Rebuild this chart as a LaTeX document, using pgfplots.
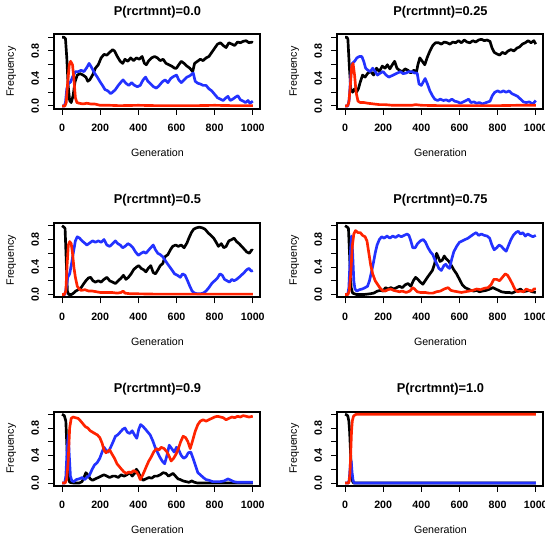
\documentclass[border=0pt]{standalone}
\usepackage{fontspec}
\setmainfont{Liberation Sans}
\usepackage{pgfplots}
\pgfplotsset{compat=1.18}
\definecolor{rred}{RGB}{255,35,0}
\definecolor{rblue}{RGB}{35,50,255}

% one R-style panel: 4% padding on both axes, thick box, outward ticks
\pgfplotsset{
  rpanel/.style={
    width=154.5pt, height=55.69pt, scale only axis, anchor=south west,
    xmin=-40, xmax=1040, ymin=-0.04, ymax=1.04,
    axis line style={line width=1.5pt},
    xtick={0,200,400,600,800,1000}, xticklabels={0,200,400,600,800,1000},
    ytick={0,0.2,0.4,0.6,0.8,1}, yticklabels={0.0,,0.4,,0.8,},
    tick pos=left, tick align=outside,
    major tick length=4.5pt,
    every tick/.style={black, line width=0.75pt},
    ticklabel style={font=\bfseries\fontsize{8}{9.6}\selectfont},
    yticklabel style={rotate=90, anchor=south},
    xticklabel shift=3.5pt, yticklabel shift=3.5pt,
    title style={at={(axis description cs:0.5,1.195)}, anchor=center, yshift=0pt,
      font=\bfseries\fontsize{9.6}{11.5}\selectfont},
    xlabel style={at={(axis description cs:0.5,-0.593)}, anchor=center,
      font=\fontsize{8}{9.6}\selectfont},
    ylabel style={at={(axis description cs:-0.209,0.5)}, anchor=center,
      font=\fontsize{8}{9.6}\selectfont},
    xlabel=Generation, ylabel=Frequency,
    every axis plot/.append style={line width=2pt, line join=round, no markers},
  }
}

\begin{document}
\begin{tikzpicture}
\useasboundingbox (0,0) rectangle (408.75pt,402.75pt);
\clip (0,0) rectangle (408.75pt,402.75pt);

% ---- P = 0.0
\begin{axis}[rpanel, at={(40.8pt,321.19pt)}, title={P(rcrtmnt)=0.0}]
\addplot[black] coordinates {(0,1.0)(10,1.0)(18,0.98)(25,0.7)(32,0.3)(40,0.08)(48,0.05)(58,0.15)(68,0.35)(80,0.45)(95,0.47)(110,0.45)(125,0.42)(135,0.36)(145,0.38)(160,0.45)(175,0.55)(190,0.6)(205,0.7)(220,0.75)(235,0.74)(250,0.78)(265,0.82)(275,0.8)(290,0.72)(305,0.65)(318,0.62)(330,0.68)(345,0.65)(360,0.7)(375,0.66)(390,0.7)(405,0.68)(420,0.72)(432,0.62)(442,0.6)(455,0.66)(470,0.7)(485,0.72)(500,0.7)(515,0.66)(530,0.68)(545,0.62)(560,0.6)(575,0.58)(590,0.55)(600,0.55)(612,0.6)(625,0.65)(640,0.62)(655,0.58)(670,0.55)(685,0.5)(695,0.62)(710,0.65)(725,0.68)(740,0.66)(755,0.7)(770,0.72)(785,0.78)(800,0.84)(815,0.9)(830,0.92)(845,0.88)(860,0.85)(875,0.92)(890,0.9)(905,0.88)(920,0.93)(935,0.92)(950,0.94)(965,0.95)(980,0.92)(995,0.93)(1000,0.92)};
\addplot[rblue] coordinates {(0,0)(12,0)(18,0.05)(25,0.25)(32,0.32)(45,0.35)(55,0.42)(70,0.5)(85,0.5)(100,0.52)(115,0.5)(130,0.56)(142,0.62)(155,0.56)(170,0.48)(185,0.42)(200,0.35)(212,0.3)(225,0.24)(240,0.22)(255,0.18)(265,0.2)(280,0.24)(295,0.3)(310,0.35)(320,0.38)(335,0.33)(350,0.3)(365,0.34)(380,0.3)(395,0.28)(410,0.3)(425,0.38)(438,0.42)(450,0.36)(465,0.32)(480,0.28)(495,0.26)(510,0.3)(525,0.35)(540,0.38)(555,0.34)(570,0.4)(585,0.43)(600,0.45)(612,0.38)(625,0.34)(640,0.38)(655,0.42)(670,0.44)(688,0.48)(698,0.36)(712,0.33)(725,0.32)(740,0.3)(755,0.3)(770,0.25)(785,0.22)(800,0.17)(815,0.12)(830,0.1)(845,0.08)(860,0.12)(870,0.14)(882,0.08)(895,0.1)(910,0.13)(922,0.15)(935,0.09)(950,0.07)(962,0.05)(975,0.08)(985,0.04)(1000,0.07)};
\addplot[rred] coordinates {(0,0)(15,0)(22,0.05)(30,0.35)(38,0.6)(45,0.65)(55,0.6)(62,0.4)(70,0.12)(78,0.05)(90,0.04)(110,0.03)(130,0.04)(150,0.03)(170,0.03)(185,0.02)(200,0.01)(250,0.01)(300,0.005)(400,0.01)(500,0.005)(600,0.005)(700,0.005)(800,0.01)(900,0.005)(1000,0.005)};
\end{axis}

% ---- P = 0.25
\begin{axis}[rpanel, at={(253.05pt,321.19pt)}, title={P(rcrtmnt)=0.25}]
\addplot[black] coordinates {(0,1.0)(10,1.0)(15,0.97)(22,0.6)(30,0.25)(40,0.2)(50,0.25)(60,0.2)(70,0.25)(80,0.35)(92,0.45)(105,0.42)(120,0.48)(135,0.5)(150,0.45)(165,0.55)(180,0.5)(195,0.58)(210,0.55)(222,0.6)(235,0.54)(248,0.6)(260,0.65)(272,0.55)(285,0.52)(300,0.5)(315,0.54)(330,0.52)(345,0.48)(360,0.52)(375,0.5)(382,0.6)(392,0.7)(405,0.65)(418,0.6)(430,0.7)(445,0.8)(460,0.88)(475,0.92)(490,0.92)(505,0.9)(520,0.93)(535,0.92)(550,0.9)(565,0.93)(580,0.92)(595,0.95)(610,0.92)(625,0.96)(640,0.93)(655,0.92)(670,0.95)(685,0.93)(700,0.96)(715,0.97)(730,0.95)(745,0.96)(760,0.94)(770,0.85)(782,0.78)(795,0.76)(810,0.74)(825,0.78)(840,0.76)(855,0.8)(870,0.82)(885,0.8)(900,0.84)(915,0.86)(930,0.9)(945,0.92)(960,0.95)(975,0.92)(990,0.95)(1000,0.9)};
\addplot[rblue] coordinates {(0,0)(15,0)(22,0.1)(30,0.45)(38,0.62)(50,0.65)(62,0.7)(75,0.72)(88,0.72)(98,0.65)(108,0.55)(120,0.52)(132,0.5)(145,0.55)(158,0.5)(170,0.45)(185,0.48)(200,0.5)(215,0.45)(230,0.42)(245,0.44)(260,0.46)(275,0.48)(290,0.5)(305,0.47)(320,0.48)(335,0.5)(350,0.5)(365,0.48)(378,0.48)(388,0.32)(400,0.3)(412,0.36)(420,0.4)(432,0.32)(445,0.22)(458,0.15)(470,0.1)(485,0.08)(500,0.1)(515,0.08)(530,0.09)(545,0.07)(560,0.1)(575,0.07)(590,0.06)(605,0.04)(620,0.06)(635,0.08)(648,0.1)(660,0.05)(675,0.06)(690,0.04)(705,0.05)(720,0.03)(740,0.05)(760,0.07)(772,0.15)(785,0.2)(800,0.22)(815,0.2)(830,0.22)(845,0.2)(860,0.22)(875,0.18)(890,0.16)(905,0.14)(920,0.1)(935,0.06)(950,0.05)(965,0.06)(985,0.03)(1000,0.08)};
\addplot[rred] coordinates {(0,0)(12,0)(20,0.05)(28,0.3)(35,0.58)(42,0.62)(50,0.45)(58,0.2)(68,0.07)(80,0.05)(100,0.05)(120,0.04)(150,0.03)(180,0.02)(210,0.02)(250,0.01)(300,0.01)(350,0.01)(370,0.02)(400,0.01)(500,0.005)(600,0.005)(700,0.005)(800,0.005)(900,0.01)(1000,0.01)};
\end{axis}

% ---- P = 0.5
\begin{axis}[rpanel, at={(40.8pt,179.81pt)}, title={P(rcrtmnt)=0.5}]
\addplot[black] coordinates {(0,1.0)(10,0.98)(16,0.96)(22,0.5)(28,0.05)(35,0.0)(50,0.0)(60,0.02)(72,0.05)(85,0.07)(100,0.1)(112,0.15)(125,0.2)(138,0.24)(150,0.25)(162,0.2)(175,0.18)(190,0.2)(205,0.18)(220,0.22)(235,0.25)(250,0.2)(265,0.18)(280,0.16)(295,0.2)(310,0.24)(322,0.28)(335,0.22)(348,0.25)(362,0.3)(375,0.36)(390,0.4)(402,0.42)(415,0.38)(428,0.36)(440,0.33)(452,0.38)(465,0.42)(478,0.32)(490,0.3)(503,0.36)(515,0.42)(528,0.45)(540,0.55)(555,0.58)(568,0.65)(580,0.7)(595,0.72)(610,0.7)(625,0.72)(640,0.68)(655,0.75)(665,0.82)(678,0.9)(690,0.95)(705,0.97)(720,0.98)(735,0.97)(750,0.95)(765,0.9)(780,0.86)(795,0.82)(808,0.76)(820,0.7)(835,0.74)(848,0.68)(860,0.7)(875,0.78)(890,0.8)(902,0.82)(915,0.77)(928,0.74)(942,0.7)(955,0.66)(968,0.62)(982,0.6)(995,0.65)(1000,0.64)};
\addplot[rblue] coordinates {(0,0)(15,0)(22,0.1)(30,0.25)(40,0.3)(50,0.45)(60,0.62)(70,0.78)(80,0.84)(92,0.82)(105,0.78)(118,0.75)(130,0.72)(145,0.75)(160,0.78)(175,0.76)(190,0.78)(205,0.76)(220,0.8)(235,0.72)(250,0.7)(265,0.74)(280,0.78)(292,0.74)(305,0.72)(318,0.68)(330,0.7)(345,0.74)(358,0.72)(372,0.68)(385,0.62)(400,0.57)(415,0.6)(428,0.62)(440,0.6)(452,0.64)(465,0.68)(478,0.72)(490,0.65)(502,0.6)(515,0.58)(528,0.55)(540,0.5)(552,0.45)(565,0.4)(578,0.35)(590,0.3)(605,0.28)(620,0.25)(632,0.3)(645,0.28)(658,0.2)(670,0.12)(682,0.05)(695,0.02)(710,0.01)(725,0.01)(740,0.02)(755,0.05)(770,0.1)(785,0.16)(800,0.2)(815,0.24)(828,0.3)(840,0.28)(852,0.22)(865,0.2)(878,0.18)(890,0.22)(902,0.2)(915,0.22)(928,0.25)(940,0.28)(955,0.32)(968,0.36)(980,0.38)(992,0.34)(1000,0.35)};
\addplot[rred] coordinates {(0,0)(12,0)(20,0.05)(27,0.45)(33,0.72)(40,0.77)(48,0.74)(55,0.6)(62,0.4)(70,0.25)(80,0.12)(90,0.08)(100,0.06)(120,0.07)(140,0.05)(160,0.05)(180,0.04)(200,0.03)(230,0.03)(260,0.03)(290,0.02)(310,0.03)(320,0.05)(330,0.02)(360,0.01)(400,0.01)(500,0.005)(600,0.005)(700,0.005)(800,0.005)(900,0.005)(1000,0.005)};
\end{axis}

% ---- P = 0.75
\begin{axis}[rpanel, at={(253.05pt,179.81pt)}, title={P(rcrtmnt)=0.75}]
\addplot[black] coordinates {(0,1.0)(12,0.98)(18,0.96)(25,0.5)(32,0.1)(40,0.02)(60,0.0)(100,0.0)(130,0.01)(150,0.02)(170,0.05)(185,0.06)(200,0.05)(212,0.1)(225,0.08)(240,0.1)(255,0.08)(270,0.1)(285,0.12)(300,0.1)(315,0.14)(330,0.16)(345,0.12)(358,0.2)(370,0.25)(382,0.22)(395,0.18)(408,0.15)(420,0.2)(432,0.25)(445,0.3)(458,0.35)(470,0.45)(480,0.6)(488,0.55)(498,0.48)(510,0.5)(520,0.56)(530,0.52)(545,0.48)(558,0.42)(570,0.36)(585,0.3)(600,0.22)(615,0.14)(630,0.1)(645,0.08)(660,0.06)(675,0.05)(690,0.06)(705,0.04)(720,0.05)(740,0.06)(760,0.08)(775,0.1)(790,0.08)(805,0.06)(820,0.04)(840,0.03)(860,0.03)(875,0.02)(890,0.04)(905,0.06)(920,0.08)(935,0.04)(950,0.05)(965,0.06)(980,0.04)(1000,0.03)};
\addplot[rblue] coordinates {(0,0)(14,0)(20,0.1)(28,0.6)(34,0.85)(40,0.6)(46,0.2)(52,0.08)(62,0.05)(75,0.07)(90,0.08)(105,0.1)(118,0.12)(128,0.2)(138,0.32)(148,0.45)(158,0.6)(168,0.72)(180,0.8)(192,0.84)(205,0.82)(220,0.85)(235,0.82)(250,0.85)(265,0.83)(280,0.86)(295,0.84)(310,0.86)(325,0.88)(335,0.86)(345,0.78)(355,0.68)(368,0.68)(380,0.74)(395,0.78)(410,0.8)(422,0.76)(435,0.68)(448,0.62)(460,0.58)(472,0.5)(482,0.44)(492,0.38)(505,0.35)(518,0.42)(528,0.44)(538,0.4)(548,0.38)(558,0.5)(570,0.62)(585,0.7)(600,0.76)(615,0.78)(630,0.8)(645,0.82)(660,0.85)(675,0.88)(688,0.9)(700,0.86)(715,0.88)(730,0.86)(745,0.85)(758,0.82)(770,0.72)(782,0.65)(795,0.68)(808,0.72)(820,0.7)(832,0.66)(845,0.63)(858,0.72)(870,0.8)(882,0.86)(895,0.9)(908,0.92)(920,0.88)(932,0.9)(945,0.85)(958,0.88)(970,0.86)(985,0.84)(1000,0.86)};
\addplot[rred] coordinates {(0,0)(15,0)(22,0.05)(30,0.3)(38,0.7)(46,0.88)(55,0.93)(68,0.9)(80,0.9)(92,0.86)(105,0.84)(115,0.78)(125,0.6)(135,0.42)(145,0.3)(158,0.2)(170,0.15)(182,0.1)(195,0.06)(210,0.05)(225,0.07)(240,0.08)(255,0.06)(270,0.05)(285,0.04)(300,0.05)(320,0.03)(340,0.05)(355,0.1)(365,0.08)(378,0.04)(395,0.03)(420,0.03)(440,0.02)(460,0.02)(480,0.04)(500,0.05)(520,0.08)(540,0.1)(555,0.06)(570,0.05)(590,0.04)(610,0.03)(630,0.04)(650,0.05)(670,0.06)(690,0.08)(710,0.07)(730,0.09)(750,0.1)(765,0.14)(780,0.22)(795,0.22)(810,0.2)(825,0.25)(840,0.3)(852,0.28)(865,0.22)(878,0.15)(890,0.08)(905,0.04)(920,0.05)(935,0.04)(950,0.08)(965,0.06)(980,0.05)(990,0.08)(1000,0.08)};
\end{axis}

% ---- P = 0.9
\begin{axis}[rpanel, at={(40.8pt,38.44pt)}, title={P(rcrtmnt)=0.9}]
\addplot[black] coordinates {(0,1.0)(12,0.98)(20,0.9)(26,0.5)(32,0.1)(40,0.01)(60,0.0)(90,0.0)(105,0.02)(115,0.08)(125,0.15)(135,0.12)(148,0.06)(160,0.04)(175,0.06)(190,0.08)(205,0.1)(220,0.12)(235,0.1)(250,0.08)(265,0.1)(280,0.1)(295,0.08)(310,0.12)(325,0.1)(340,0.12)(355,0.15)(368,0.1)(380,0.14)(390,0.2)(400,0.16)(412,0.08)(425,0.04)(440,0.06)(455,0.08)(470,0.07)(485,0.1)(500,0.1)(515,0.12)(530,0.15)(545,0.14)(558,0.1)(570,0.12)(582,0.14)(595,0.1)(608,0.06)(620,0.05)(635,0.03)(650,0.02)(665,0.01)(680,0.03)(695,0.01)(710,0.0)(800,0.0)(880,0.0)(1000,0.0)};
\addplot[rblue] coordinates {(0,0)(14,0)(20,0.1)(27,0.5)(33,0.7)(38,0.4)(44,0.1)(52,0.03)(62,0.02)(75,0.05)(90,0.06)(105,0.08)(118,0.05)(130,0.08)(145,0.12)(158,0.2)(170,0.26)(185,0.3)(198,0.36)(210,0.45)(220,0.52)(230,0.48)(242,0.45)(255,0.52)(268,0.6)(280,0.68)(292,0.7)(305,0.74)(318,0.78)(330,0.8)(342,0.74)(355,0.72)(368,0.76)(380,0.7)(392,0.65)(402,0.78)(412,0.85)(425,0.82)(438,0.78)(450,0.74)(462,0.7)(475,0.62)(488,0.52)(500,0.45)(512,0.38)(525,0.32)(538,0.28)(550,0.4)(562,0.55)(575,0.5)(588,0.45)(600,0.52)(612,0.48)(625,0.4)(638,0.36)(650,0.38)(662,0.44)(675,0.45)(688,0.35)(700,0.25)(712,0.15)(725,0.12)(740,0.08)(755,0.05)(770,0.04)(790,0.02)(810,0.02)(830,0.02)(850,0.03)(870,0.06)(885,0.04)(900,0.02)(920,0.01)(950,0.01)(1000,0.01)};
\addplot[rred] coordinates {(0,0)(16,0)(24,0.05)(32,0.3)(40,0.8)(48,0.94)(58,0.96)(70,0.95)(85,0.94)(98,0.9)(110,0.86)(122,0.82)(135,0.8)(148,0.76)(160,0.74)(172,0.72)(185,0.7)(198,0.66)(210,0.58)(220,0.48)(230,0.44)(240,0.46)(250,0.48)(262,0.42)(275,0.36)(288,0.28)(300,0.24)(312,0.2)(325,0.16)(338,0.14)(350,0.16)(362,0.15)(375,0.18)(390,0.16)(400,0.12)(410,0.05)(420,0.1)(430,0.16)(442,0.24)(455,0.32)(468,0.38)(480,0.45)(495,0.5)(508,0.48)(520,0.52)(535,0.5)(548,0.46)(560,0.4)(572,0.32)(585,0.36)(598,0.42)(610,0.5)(622,0.6)(635,0.68)(648,0.66)(660,0.6)(672,0.5)(685,0.62)(698,0.75)(712,0.85)(725,0.9)(740,0.92)(755,0.9)(770,0.92)(785,0.94)(800,0.96)(815,0.97)(830,0.96)(845,0.95)(860,0.92)(875,0.94)(890,0.96)(905,0.95)(920,0.97)(935,0.96)(950,0.98)(965,0.97)(980,0.96)(1000,0.97)};
\end{axis}

% ---- P = 1.0
\begin{axis}[rpanel, at={(253.05pt,38.44pt)}, title={P(rcrtmnt)=1.0}]
\addplot[black] coordinates {(0,1.0)(10,0.99)(15,0.97)(20,0.9)(24,0.75)(28,0.5)(32,0.25)(36,0.08)(40,0.02)(45,0.0)(1000,0.0)};
\addplot[rblue] coordinates {(0,0)(18,0)(22,0.05)(26,0.2)(30,0.35)(33,0.3)(37,0.15)(42,0.04)(48,0.0)(1000,0.0)};
\addplot[rred] coordinates {(0,0)(18,0)(22,0.03)(26,0.15)(30,0.45)(34,0.75)(38,0.9)(44,0.97)(52,0.99)(60,1.0)(1000,1.0)};
\end{axis}
\end{tikzpicture}
\end{document}
